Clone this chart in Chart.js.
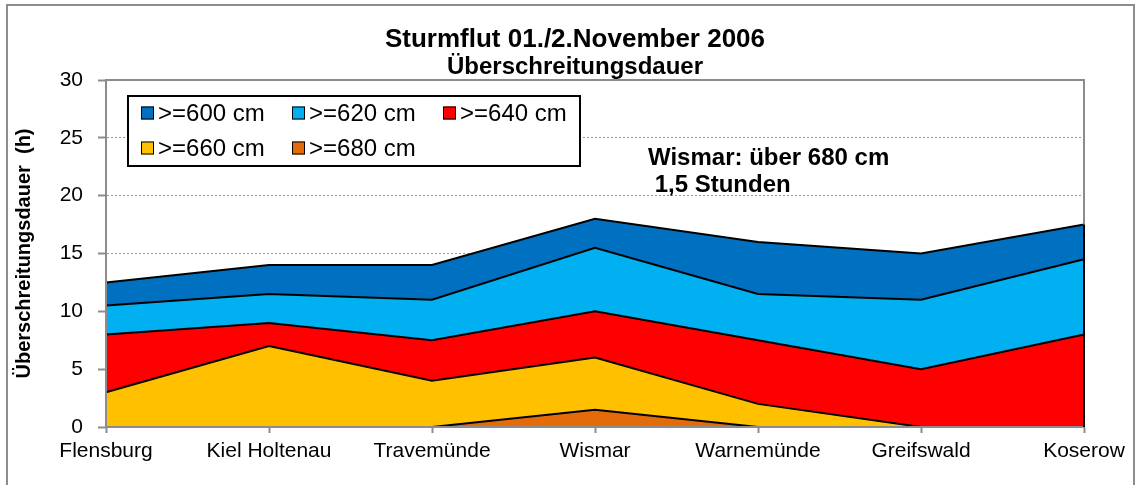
<!DOCTYPE html>
<html>
<head>
<meta charset="utf-8">
<title>Sturmflut 01./2.November 2006</title>
<script src="https://cdn.jsdelivr.net/npm/chart.js@4.4.0/dist/chart.umd.min.js"></script>
<style>
body { margin: 0; background: #fff; }
canvas { display: block; }
</style>
</head>
<body>
<canvas id="myChart" width="1135" height="485"></canvas>
<script>
// Pegelstationen und Überschreitungsdauer (Stunden) je Schwellenwert

var Stations = ["Flensburg", "Kiel Holtenau", "Travemünde", "Wismar", "Warnemünde", "Greifswald", "Koserow"];
var Levels = [">=600 cm", ">=620 cm", ">=640 cm", ">=660 cm", ">=680 cm"];
var Data_600 = [12.5, 14, 14, 18, 16, 15, 17.5];
var Data_620 = [10.5, 11.5, 11, 15.5, 11.5, 11, 14.5];
var Data_640 = [8, 9, 7.5, 10, 7.5, 5, 8];
var Data_660 = [3, 7, 4, 6, 2, 0, 0];
var Data_680 = [0, 0, 0, 1.5, 0, 0, 0];
var Colors = ["rgb(0, 112, 192)", "rgb(0, 176, 240)", "rgb(255, 0, 0)", "rgb(255, 192, 0)", "rgb(227, 108, 9)"];
var YMin = 0;
var YMax = 30;
var YStep = 5;

var Title = "Sturmflut 01./2.November 2006";
var SubTitle = "Überschreitungsdauer";
var YTitle = "Überschreitungsdauer  (h)";

var FONT = "'Liberation Sans', Arial, sans-serif";
var GREY = "rgb(140, 140, 140)";

// Hinweis für Wismar, Wert kommt aus der >=680-Reihe
var wismar = Stations.indexOf("Wismar");
var NoteLines = [
	"Wismar: über 680 cm",
	" " + String(Data_680[wismar]).replace(".", ",") + " Stunden"
	];

var Series = [Data_600, Data_620, Data_640, Data_660, Data_680];
var datasets = [];
for (var i = 0; i < Series.length; i++) {
	datasets.push({
		label: Levels[i],
		data: Series[i],
		backgroundColor: Colors[i],
		borderColor: "black",
		borderWidth: 2,
		pointRadius: 0,
		tension: 0,
		fill: "origin",
		order: Series.length - i	// höhere Schwelle liegt oben
		});
	}

var framePlugin = {
	id: "frame",
	beforeDraw: function(chart) {
		var ctx = chart.ctx;
		ctx.save();
		ctx.fillStyle = "white";
		ctx.fillRect(0, 0, chart.width, chart.height);
		ctx.strokeStyle = GREY;
		ctx.lineWidth = 2;
		ctx.strokeRect(7, 5, chart.width - 8, chart.height);
		ctx.restore();
		},
	afterDatasetsDraw: function(chart) {
		var ctx = chart.ctx;
		var a = chart.chartArea;
		var xs = chart.scales.x;
		var ys = chart.scales.y;
		ctx.save();
		// Rahmen der Zeichenfläche
		ctx.strokeStyle = GREY;
		ctx.lineWidth = 2;
		ctx.setLineDash([]);
		ctx.beginPath();
		ctx.moveTo(a.left, a.top);
		ctx.lineTo(a.right, a.top);
		ctx.lineTo(a.right, a.bottom);
		ctx.lineTo(a.left, a.bottom);
		ctx.closePath();
		ctx.stroke();
		// rechte Kante der Flächen
		var last = Stations.length - 1;
		var top = 0;
		for (var i = 0; i < Series.length; i++) {
			if (Series[i][last] > top) top = Series[i][last];
			}
		var xr = xs.getPixelForValue(last);
		ctx.strokeStyle = "black";
		ctx.beginPath();
		ctx.moveTo(xr, ys.getPixelForValue(top));
		ctx.lineTo(xr, ys.getPixelForValue(0));
		ctx.stroke();
		ctx.restore();
		}
	};

var legendPlugin = {
	id: "boxLegend",
	afterDraw: function(chart) {
		var ctx = chart.ctx;
		var cols = [141, 292, 443];
		var rows = [113, 148];
		ctx.save();
		ctx.fillStyle = "white";
		ctx.fillRect(128, 96, 452, 70);
		ctx.strokeStyle = "black";
		ctx.lineWidth = 2;
		ctx.strokeRect(128, 96, 452, 70);
		ctx.font = "24px " + FONT;
		ctx.textBaseline = "middle";
		ctx.textAlign = "left";
		var ds = chart.data.datasets;
		for (var i = 0; i < ds.length; i++) {
			var x = cols[i % 3];
			var y = rows[Math.floor(i / 3)];
			ctx.fillStyle = ds[i].backgroundColor;
			ctx.fillRect(x, y - 6.5, 13, 13);
			ctx.lineWidth = 1;
			ctx.strokeRect(x + 0.5, y - 6, 12, 12);
			ctx.fillStyle = "black";
			ctx.fillText(ds[i].label, x + 17, y + 1);
			}
		ctx.restore();
		}
	};

var textPlugin = {
	id: "texts",
	afterDraw: function(chart) {
		var ctx = chart.ctx;
		ctx.save();
		ctx.fillStyle = "black";
		ctx.textAlign = "center";
		ctx.textBaseline = "alphabetic";
		ctx.font = "bold 26px " + FONT;
		ctx.fillText(Title, 575, 47);
		ctx.font = "bold 24px " + FONT;
		ctx.fillText(SubTitle, 575, 74);
		ctx.textAlign = "left";
		ctx.fillText(NoteLines[0], 648, 165);
		ctx.fillText(NoteLines[1], 648, 192);
		ctx.restore();
		}
	};

var Ctxt = document.getElementById("myChart").getContext("2d");
var ChartInst = new Chart(Ctxt, {
	type: "line",
	data: {
		labels: Stations,
		datasets: datasets
		},
	options: {
		responsive: false,
		devicePixelRatio: 1,
		animation: false,
		layout: {
			padding: { left: 0, top: 80, right: 51, bottom: 0 }
			},
		plugins: {
			legend: { display: false },
			tooltip: { enabled: false },
			title: { display: false }
			},
		scales: {
			x: {
				offset: false,
				afterFit: function(scale) { scale.height = 58; },
				border: { display: true, color: GREY, width: 2 },
				grid: {
					display: true,
					drawOnChartArea: false,
					drawTicks: true,
					tickLength: 6,
					tickColor: GREY,
					tickWidth: 2
					},
				ticks: {
					color: "black",
					font: { family: FONT, size: 21 },
					padding: 6,
					maxRotation: 0,
					autoSkip: false
					}
				},
			y: {
				min: YMin,
				max: YMax,
				afterFit: function(scale) { scale.width = 106; },
				border: { display: true, color: GREY, width: 2, dash: [2, 2] },
				grid: {
					color: "rgb(150, 150, 150)",
					lineWidth: 1,
					drawTicks: true,
					tickLength: 8,
					tickColor: GREY,
					tickWidth: 2,
					tickBorderDash: []
					},
				ticks: {
					stepSize: YStep,
					color: "black",
					font: { family: FONT, size: 21 },
					padding: 15
					},
				title: {
					display: true,
					text: YTitle,
					color: "black",
					font: { family: FONT, size: 20, weight: "bold" },
					padding: { top: 12, bottom: 0 }
					}
				}
			}
		},
	plugins: [framePlugin, legendPlugin, textPlugin]
	});
</script>
</body>
</html>
